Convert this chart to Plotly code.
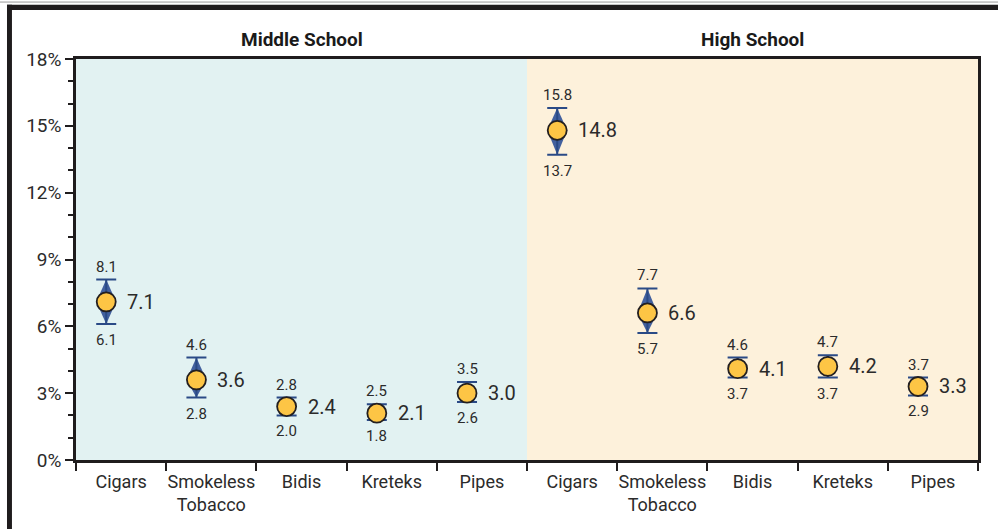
import plotly.graph_objects as go

# Current use of tobacco products, by school level (%, with 95% CI)
groups = ["Middle School", "High School"]
products = ["Cigars", "Smokeless<br>Tobacco", "Bidis", "Kreteks", "Pipes"]

middle_est = [7.1, 3.6, 2.4, 2.1, 3.0]
middle_lo = [6.1, 2.8, 2.0, 1.8, 2.6]
middle_hi = [8.1, 4.6, 2.8, 2.5, 3.5]

high_est = [14.8, 6.6, 4.1, 4.2, 3.3]
high_lo = [13.7, 5.7, 3.7, 3.7, 2.9]
high_hi = [15.8, 7.7, 4.6, 4.7, 3.7]

y_ticks = [0, 3, 6, 9, 12, 15, 18]

est = middle_est + high_est
lo = middle_lo + high_lo
hi = middle_hi + high_hi
labels = products + products
cats = list(range(len(est)))
# markers sit a little left of each category centre, leaving room for the value label
xpos = [c - 0.165 for c in cats]

FONT = "Roboto"
TXT = "#2b2b2b"
DIAMOND = "#42609e"
CAP = "#2a4a86"
DOT = "#fdc545"

fig = go.Figure()

# diamond-shaped CI bodies
half_w = 0.11
for x, e, l, h in zip(xpos, est, lo, hi):
    fig.add_trace(go.Scatter(
        x=[x, x + half_w, x, x - half_w, x],
        y=[l, e, h, e, l],
        fill="toself", fillcolor=DIAMOND, mode="lines",
        line=dict(width=0, color=DIAMOND), hoverinfo="skip", showlegend=False,
    ))

# point estimates with CI caps
fig.add_trace(go.Scatter(
    x=xpos, y=est, mode="markers",
    marker=dict(size=19, color=DOT, line=dict(color="#231f20", width=1.8)),
    error_y=dict(type="data", symmetric=False,
                 array=[h - e for h, e in zip(hi, est)],
                 arrayminus=[e - l for e, l in zip(est, lo)],
                 color=CAP, thickness=2, width=10),
    showlegend=False,
))

ann = []
for x, e, l, h in zip(xpos, est, lo, hi):
    ann.append(dict(x=x, y=h, text=f"{h:.1f}", showarrow=False, yanchor="bottom",
                    yshift=2, font=dict(size=15, color=TXT, family=FONT)))
    ann.append(dict(x=x, y=l, text=f"{l:.1f}", showarrow=False, yanchor="top",
                    yshift=-5, font=dict(size=15, color=TXT, family=FONT)))
    ann.append(dict(x=x, y=e, text=f"{e:.1f}", showarrow=False, xanchor="left",
                    xshift=19, font=dict(size=20, color=TXT, family=FONT)))

n = len(products)
for i, g in enumerate(groups):
    ann.append(dict(x=i * n + (n - 1) / 2, y=1, yref="paper", yanchor="bottom", yshift=6,
                    text=f"<b>{g}</b>", showarrow=False,
                    font=dict(size=19, color="#1a1a1a", family=FONT)))

shapes = [
    dict(type="rect", xref="x", yref="paper", x0=-0.5, x1=n - 0.5, y0=0, y1=1,
         fillcolor="#e2f2f2", line=dict(width=0), layer="below"),
    dict(type="rect", xref="x", yref="paper", x0=n - 0.5, x1=2 * n - 0.5, y0=0, y1=1,
         fillcolor="#fdf1db", line=dict(width=0), layer="below"),
    # outer frame
    dict(type="line", xref="paper", yref="paper", x0=-0.09, x1=1.03, y0=1.142, y1=1.142,
         line=dict(color="#9a9a9a", width=1)),
    dict(type="rect", xref="paper", yref="paper", x0=-0.0765, x1=1.03, y0=1.122, y1=1.135,
         fillcolor="#1f1c1d", line=dict(width=0)),
    dict(type="rect", xref="paper", yref="paper", x0=-0.0765, x1=-0.071, y0=-0.2, y1=1.135,
         fillcolor="#1f1c1d", line=dict(width=0)),
]

fig.update_layout(
    width=998, height=529,
    margin=dict(l=76, r=20, t=59, b=69),
    paper_bgcolor="white", plot_bgcolor="white",
    font=dict(family=FONT, color=TXT),
    annotations=ann, shapes=shapes,
    xaxis=dict(range=[-0.5, 2 * n - 0.5], tickmode="array", tickvals=cats, ticktext=labels,
               ticks="", showgrid=False, zeroline=False, ticklabelstandoff=3,
               showline=True, linecolor="#1f1c1d", linewidth=3, mirror=True,
               tickfont=dict(size=18, color=TXT, family=FONT),
               minor=dict(tickmode="array", tickvals=[k - 0.5 for k in range(2 * n + 1)],
                          ticks="outside", ticklen=8, tickwidth=1.5, tickcolor="#1f1c1d",
                          showgrid=False)),
    yaxis=dict(range=[0, 18], tickmode="array", tickvals=y_ticks,
               ticktext=[f"{v}%" for v in y_ticks],
               ticks="outside", ticklen=8, tickwidth=2, tickcolor="#1f1c1d",
               showgrid=False, zeroline=False,
               showline=True, linecolor="#1f1c1d", linewidth=2.5, mirror=True,
               tickfont=dict(size=19, color=TXT, family=FONT),
               minor=dict(dtick=1, tick0=0, ticks="outside", ticklen=5, tickwidth=1.5,
                          tickcolor="#1f1c1d", showgrid=False)),
)

fig.write_html("out.html")
